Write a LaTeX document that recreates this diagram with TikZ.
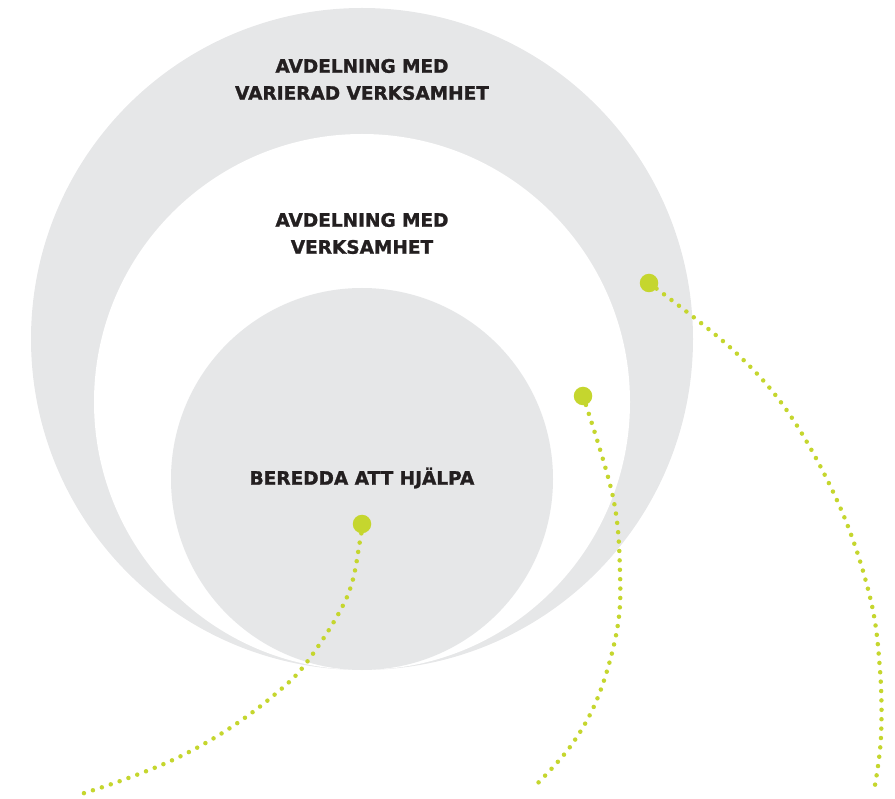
\documentclass[tikz,border=0pt]{standalone}
\usepackage{fontspec}
\setmainfont{DejaVu Sans}
\newfontfamily\heavyfont[FakeBold=1.3]{DejaVu Sans Bold}
\definecolor{ringgray}{HTML}{E6E7E8}
\definecolor{lime}{HTML}{C5D62E}
\definecolor{ink}{HTML}{231F20}
\begin{document}
\begin{tikzpicture}[x=1pt,y=-1pt,
  ring/.style={fill=ringgray,draw=none},
  hole/.style={fill=white,draw=none},
  label/.style={text=ink,font=\heavyfont\fontsize{18.5}{27}\selectfont,align=center,inner sep=0pt},
  bigdot/.style={circle,fill=lime,draw=none,minimum size=18.5pt,inner sep=0pt},
  dotline/.style={draw=lime,line width=4.5pt,line cap=round,dash pattern=on 0pt off 9.4pt}]
\useasboundingbox (0,0) rectangle (895,799);
\fill[ring] (362,339) circle[radius=331pt];
\fill[hole] (362,402) circle[radius=268pt];
\fill[ring] (362,479) circle[radius=191pt];

\node[label] (t1) at (362,79.5) {AVDELNING MED\\VARIERAD VERKSAMHET};
\node[label] (t2) at (362,233.5) {AVDELNING MED\\VERKSAMHET};
\node[label] (t3) at (362,478) {BEREDDA ATT HJÄLPA};

\coordinate (e1) at (78,795);
\coordinate (e2) at (532,789);
\coordinate (e3) at (875,785);

\draw[dotline] plot[smooth,tension=0.6] coordinates {(362,524) (360,541) (347,597) (307,662) (273,696) (227,730) (177,758) (123,780) (e1)};
\draw[dotline] plot[smooth,tension=0.6] coordinates {(583,396) (613,497) (620,573) (617,630) (598,697) (570,747) (e2)};
\draw[dotline] plot[smooth,tension=0.6] coordinates {(649,283) (733,350) (790,415) (840,507) (870,597) (880,670) (881,737) (e3)};

\node[bigdot] (d1) at (362,524) {};
\node[bigdot] (d2) at (583,396) {};
\node[bigdot] (d3) at (649,283) {};
\end{tikzpicture}
\end{document}
